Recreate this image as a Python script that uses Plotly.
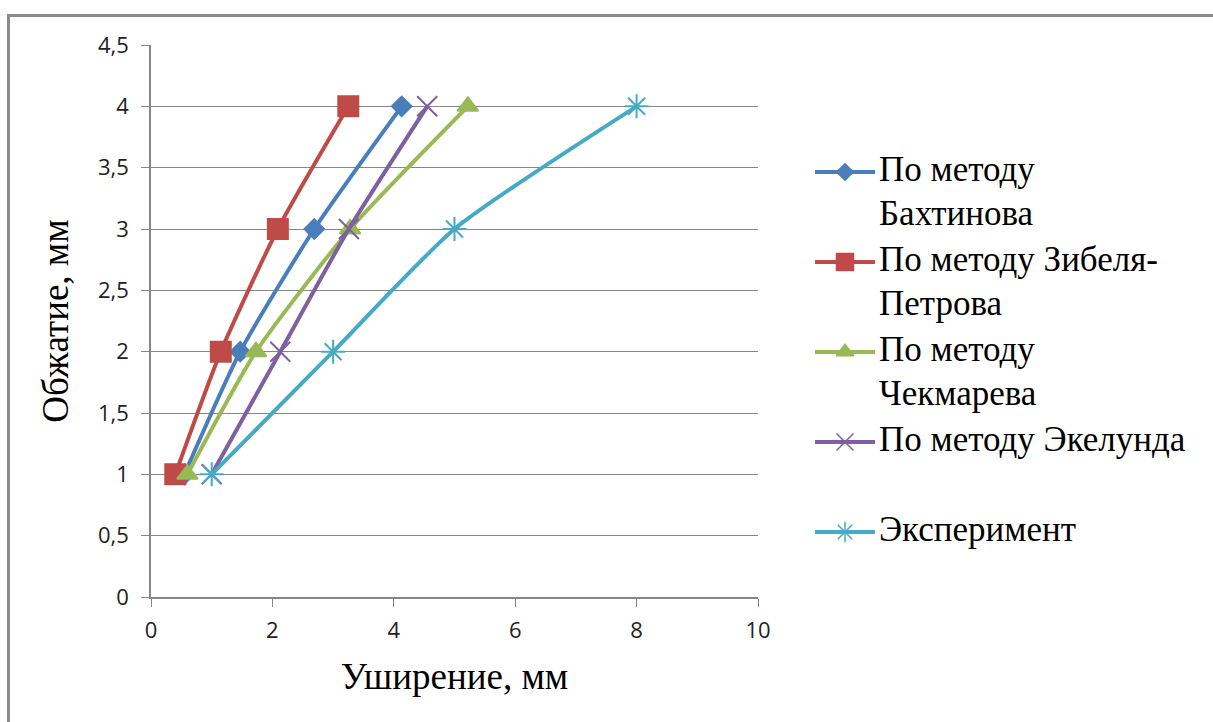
import plotly.graph_objects as go

y_vals = [1, 2, 3, 4]
x_bakhtinov = [0.55, 1.47, 2.69, 4.13]
x_zibel = [0.40, 1.15, 2.09, 3.25]
x_chekmarev = [0.60, 1.73, 3.28, 5.22]
x_ekelund = [1.00, 2.13, 3.26, 4.55]
x_experiment = [1.0, 3.0, 5.0, 8.0]

name_lines = [["По методу", "Бахтинова"], ["По методу Зибеля-", "Петрова"], ["По методу", "Чекмарева"],
              ["По методу Экелунда", ""], ["Эксперимент"]]
colors = ["#4A7EBB", "#BE4B48", "#98B954", "#7D60A0", "#46AAC5"]
symbols = ["diamond", "square", "triangle-up", "x-thin", "asterisk"]
sizes = [15, 20, 18, 20, 20]
series = [x_bakhtinov, x_zibel, x_chekmarev, x_ekelund, x_experiment]

SERIF = "Liberation Serif"

W, H = 1213, 722
L, R, T, B = 151, 758, 45, 597
RM = 0
PW = W - L - RM
pw, ph = R - L, B - T

def px_x(p):
    return (p - L) / PW

def px_y(p):
    return (B - p) / ph

fig = go.Figure()
for xs, nl, c, s, sz in zip(series, name_lines, colors, symbols, sizes):
    fig.add_trace(go.Scatter(
        x=xs, y=y_vals, name=" ".join(nl).strip(), mode="lines+markers", showlegend=False,
        line=dict(color=c, width=4, shape="spline", smoothing=0.6),
        marker=dict(symbol=s, size=sz, color=c, line=dict(color=c, width=2)),
    ))

# manual legend: symbols and text on a hidden pixel-scaled axis
LEG_X0, LEG_X1, TXT_X = 815, 875, 879
LINE_H = 44.5
y_cur = 172
txt_x, txt_y, txt_s = [], [], []
for nl, c, s, sz in zip(name_lines, colors, symbols, sizes):
    fig.add_trace(go.Scatter(
        x=[LEG_X0, LEG_X1], y=[y_cur] * 2, xaxis="x2", yaxis="y2",
        mode="lines", showlegend=False, hoverinfo="skip",
        line=dict(color=c, width=4)))
    fig.add_trace(go.Scatter(
        x=[(LEG_X0 + LEG_X1) / 2], y=[y_cur], xaxis="x2", yaxis="y2",
        mode="markers", showlegend=False, hoverinfo="skip",
        marker=dict(symbol=s, size=sz * 0.85, color=c, line=dict(color=c, width=1.5))))
    for i, t in enumerate(nl):
        if t:
            txt_x.append(TXT_X)
            txt_y.append(y_cur + i * LINE_H)
            txt_s.append(t)
    y_cur += LINE_H * len(nl) + (1 if len(nl) == 2 else 0)

fig.add_trace(go.Scatter(
    x=txt_x, y=txt_y, text=txt_s, xaxis="x2", yaxis="y2", mode="text",
    textposition="middle right", showlegend=False, hoverinfo="skip", cliponaxis=False,
    textfont=dict(family=SERIF, size=35, color="black")))

fig.add_shape(type="rect", xref="paper", yref="paper",
              x0=px_x(8.5), x1=px_x(1300), y0=px_y(15.5), y1=px_y(800),
              line=dict(color="#8a8a8a", width=3), fillcolor="rgba(0,0,0,0)")

fig.update_layout(
    width=W, height=H,
    margin=dict(l=L, r=RM, t=T, b=H - B, autoexpand=False),
    paper_bgcolor="white", plot_bgcolor="rgba(0,0,0,0)",
    separators=", ",
    font=dict(family=SERIF, color="black"),
    showlegend=False,
    xaxis=dict(domain=[0, pw / PW], range=[0, 10], dtick=2, tick0=0, showgrid=False, zeroline=False,
               showline=True, linecolor="#868686", linewidth=1.5,
               ticks="outside", ticklen=8, tickcolor="#868686", ticklabelstandoff=5,
               tickfont=dict(family="Open Sans", size=22, color="#222"),
               title=dict(text="Уширение, мм", font=dict(family=SERIF, size=37, color="black"),
                          standoff=20)),
    yaxis=dict(range=[0, 4.5], dtick=0.5, tick0=0, showgrid=True, gridcolor="#868686", gridwidth=1.3,
               zeroline=False, showline=True, linecolor="#868686", linewidth=1.5,
               ticks="outside", ticklen=8, tickcolor="#868686", ticklabelstandoff=8,
               tickfont=dict(family="Open Sans", size=22, color="#222"),
               title=dict(text="Обжатие, мм", font=dict(family=SERIF, size=37, color="black"),
                          standoff=18)),
    xaxis2=dict(domain=[0, 1], range=[L, W - RM], visible=False, fixedrange=True),
    yaxis2=dict(domain=[0, 1], range=[B, T], visible=False, fixedrange=True, anchor="x2"),
)

fig.write_html("out.html")
